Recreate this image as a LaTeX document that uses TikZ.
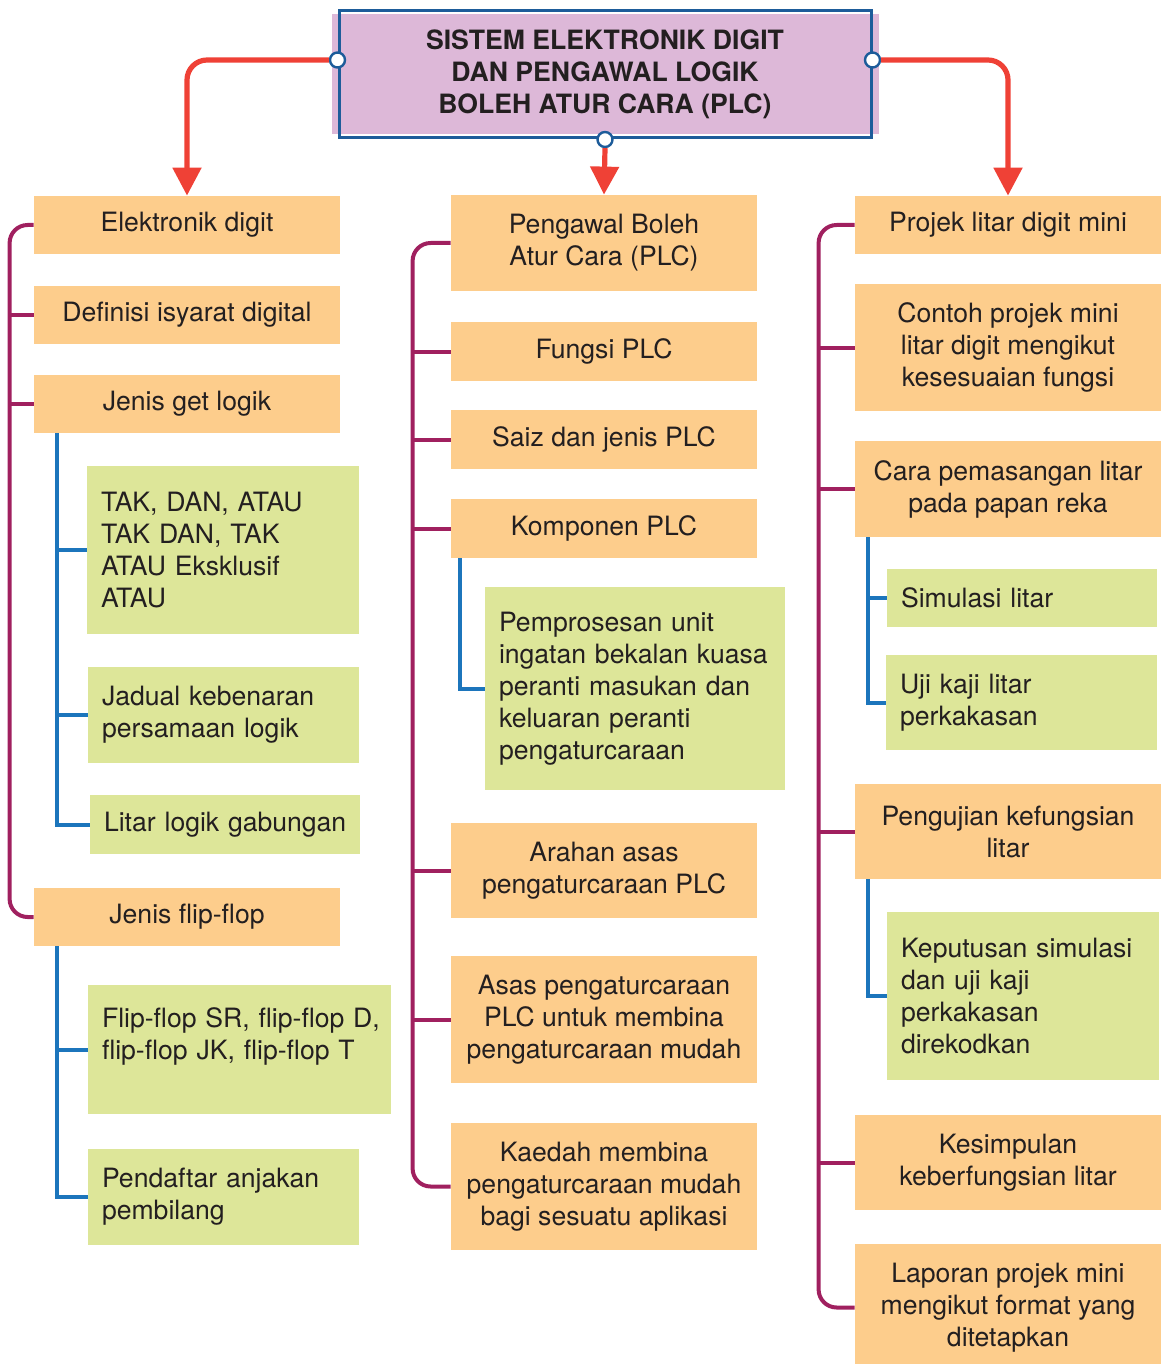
\documentclass[tikz,border=0pt]{standalone}
\usepackage{fontspec}
\setmainfont{TeX Gyre Heros}
\usetikzlibrary{arrows.meta,backgrounds}

\definecolor{boxorange}{HTML}{FDCD8C}
\definecolor{boxgreen}{HTML}{DDE699}
\definecolor{titlepink}{HTML}{DDB8D8}
\definecolor{titleblue}{HTML}{1D5C9A}
\definecolor{linemagenta}{HTML}{A0205F}
\definecolor{lineblue}{HTML}{1C75BC}
\definecolor{arrowred}{HTML}{EF4136}
\definecolor{textdark}{HTML}{231F20}

\tikzset{
  obox/.style={fill=boxorange, align=center, inner sep=0pt, minimum width=153pt, text=textdark},
  gbox/.style={fill=boxgreen, align=left, inner xsep=7pt, inner ysep=0pt, text=textdark},
  mline/.style={draw=linemagenta, line width=2pt, rounded corners=9pt},
  bline/.style={draw=lineblue, line width=2pt},
  rarrow/.style={draw=arrowred, line width=2.6pt, rounded corners=10pt, -{Triangle[width=14pt,length=14pt]}},
  dot/.style={circle, draw=titleblue, fill=white, line width=1.2pt, inner sep=0pt, minimum size=7.5pt},
}

\begin{document}
\begin{tikzpicture}[x=0.5pt, y=-0.5pt, font=\fontsize{13.3}{16}\selectfont]
    \useasboundingbox (0,0) rectangle (1161,1364);

    % title box
    \node[draw=titleblue, line width=1.5pt, minimum width=266pt, minimum height=63.5pt, align=center, text=textdark, font=\fontsize{13.3}{16}\selectfont\bfseries] (title) at (605,74.5) {SISTEM ELEKTRONIK DIGIT\\DAN PENGAWAL LOGIK\\BOLEH ATUR CARA (PLC)};
    \begin{scope}[on background layer]
        \fill[titlepink] ([xshift=-3pt,yshift=-2.5pt]title.north west) rectangle ([xshift=3pt,yshift=2.5pt]title.south east);
    \end{scope}
    \node[dot] (dl) at ([yshift=7.25pt]title.west) {};
    \node[dot] (dr) at ([yshift=7.25pt]title.east) {};
    \node[dot] (db) at (title.south) {};

    % left column
    \node[obox, minimum height=29pt] (ed) at (187,225) {Elektronik digit};
    \node[obox, minimum height=29pt] (dis) at (187,315) {Definisi isyarat digital};
    \node[obox, minimum height=29pt] (jgl) at (187,403.5) {Jenis get logik};
    \node[gbox, text width=122pt, minimum height=84pt] (tak) at (223,550) {TAK, DAN, ATAU\\TAK DAN, TAK\\ATAU Eksklusif\\ATAU};
    \node[gbox, text width=121.5pt, minimum height=48pt] (jad) at (223.5,715) {Jadual kebenaran\\persamaan logik};
    \node[gbox, text width=121pt, minimum height=29.5pt] (llg) at (225,824.5) {\mbox{Litar logik gabungan}};
    \node[obox, minimum height=29pt] (jff) at (187,917) {Jenis flip-flop};
    \node[gbox, text width=137.5pt, minimum height=64.5pt] (ffs) at (239.5,1049.5) {\mbox{Flip-flop SR, flip-flop D,}\\flip-flop JK, flip-flop T\\\mbox{}};
    \node[gbox, text width=121.5pt, minimum height=48pt] (pen) at (223.5,1197) {Pendaftar anjakan\\pembilang};

    % middle column
    \node[obox, minimum height=48pt] (pac) at (604,243) {Pengawal Boleh\\Atur Cara (PLC)};
    \node[obox, minimum height=29.5pt] (fpl) at (604,351.5) {Fungsi PLC};
    \node[obox, minimum height=29.5pt] (sjp) at (604,439.5) {Saiz dan jenis PLC};
    \node[obox, minimum height=29.5pt] (kpl) at (604,528.5) {Komponen PLC};
    \node[gbox, text width=136pt, minimum height=101.5pt] (pup) at (635,688.5) {Pemprosesan unit\\ingatan bekalan kuasa\\peranti masukan dan\\keluaran peranti\\pengaturcaraan};
    \node[obox, minimum height=47.5pt] (aap) at (604,870.5) {Arahan asas\\pengaturcaraan PLC};
    \node[obox, minimum height=63.5pt] (apl) at (604,1019.5) {Asas pengaturcaraan\\PLC untuk membina\\pengaturcaraan mudah};
    \node[obox, minimum height=63.5pt] (kmp) at (604,1186.5) {Kaedah membina\\pengaturcaraan mudah\\bagi sesuatu aplikasi};

    % right column
    \node[obox, minimum height=29pt] (pld) at (1008,225) {Projek litar digit mini};
    \node[obox, minimum height=63.5pt] (cpm) at (1008,347.5) {Contoh projek mini\\litar digit mengikut\\kesesuaian fungsi};
    \node[obox, minimum height=48pt] (cpl) at (1008,489) {Cara pemasangan litar\\pada papan reka};
    \node[gbox, text width=121pt, minimum height=29pt] (sim) at (1022,598) {Simulasi litar};
    \node[gbox, text width=121.5pt, minimum height=47.5pt] (ujk) at (1021.5,702.5) {Uji kaji litar\\perkakasan};
    \node[obox, minimum height=47.5pt] (pkl) at (1008,831.5) {Pengujian kefungsian\\litar};
    \node[gbox, text width=122pt, minimum height=84pt] (kps) at (1023,996) {Keputusan simulasi\\dan uji kaji\\perkakasan\\direkodkan};
    \node[obox, minimum height=47.5pt] (kkl) at (1008,1162.5) {Kesimpulan\\keberfungsian litar};
    \node[obox, minimum height=63.5pt] (lpm) at (1008,1307.5) {Laporan projek mini\\mengikut format yang\\ditetapkan};

    % arrows from the title
    \draw[rarrow] (dl.west) -| (ed.north);
    \draw[rarrow] (dr.east) -| (pld.north);
    \draw[rarrow] (db.south) -- (pac.north);

    % left branches
    \draw[mline] (ed.west) -- ++(-24,0) coordinate (ml) |- (jff.west);
    \draw[mline] (ml |- dis.west) -- (dis.west);
    \draw[mline] (ml |- jgl.west) -- (jgl.west);
    \draw[bline] ([xshift=11.5pt]jgl.south west) coordinate (bl1) |- (llg.west);
    \draw[bline] (bl1 |- tak.west) -- (tak.west);
    \draw[bline] (bl1 |- jad.west) -- (jad.west);
    \draw[bline] ([xshift=11.5pt]jff.south west) coordinate (bl2) |- (pen.west);
    \draw[bline] (bl2 |- ffs.west) -- (ffs.west);

    % middle branches
    \draw[mline] (pac.west) -- ++(-38,0) coordinate (mm) |- (kmp.west);
    \draw[mline] (mm |- fpl.west) -- (fpl.west);
    \draw[mline] (mm |- sjp.west) -- (sjp.west);
    \draw[mline] (mm |- kpl.west) -- (kpl.west);
    \draw[mline] (mm |- aap.west) -- (aap.west);
    \draw[mline] (mm |- apl.west) -- (apl.west);
    \draw[bline] ([xshift=4.5pt]kpl.south west) |- (pup.west);

    % right branches
    \draw[mline] (pld.west) -- ++(-36,0) coordinate (mr) |- (lpm.west);
    \draw[mline] (mr |- cpm.west) -- (cpm.west);
    \draw[mline] (mr |- cpl.west) -- (cpl.west);
    \draw[mline] (mr |- pkl.west) -- (pkl.west);
    \draw[mline] (mr |- kkl.west) -- (kkl.west);
    \draw[bline] ([xshift=6.5pt]cpl.south west) coordinate (br1) |- (ujk.west);
    \draw[bline] (br1 |- sim.west) -- (sim.west);
    \draw[bline] ([xshift=6.5pt]pkl.south west) |- (kps.west);
\end{tikzpicture}
\end{document}
